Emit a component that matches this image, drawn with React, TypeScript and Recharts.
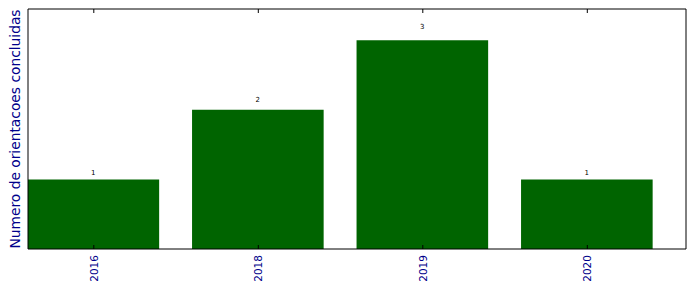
import { BarChart, Bar, XAxis, YAxis, LabelList } from "recharts";

const years = ["2016", "2018", "2019", "2020"];
const counts = [1, 2, 3, 1];
const yMax = 3.45;
const xDomain = [-0.4, 3.6];
const xTicks = [0, 1, 2, 3];

const data = years.map((year, i) => ({ pos: i, year, count: counts[i] }));

const FONT = "DejaVu Sans, sans-serif";
const LABEL_BLUE = "#00008B";
const BAR_GREEN = "#006400";

function BottomTick(props: any) {
  const { x, y, payload } = props;
  return (
    <g>
      <line x1={x} y1={y} x2={x} y2={y - 4} stroke="#000" strokeWidth={1} />
      <text
        x={x}
        y={y + 6}
        transform={`rotate(-90, ${x}, ${y + 6})`}
        textAnchor="end"
        dominantBaseline="central"
        fontFamily={FONT}
        fontSize={10.5}
        fill={LABEL_BLUE}
      >
        {years[payload.value]}
      </text>
    </g>
  );
}

function TopTick(props: any) {
  const { x, y } = props;
  return <line x1={x} y1={y} x2={x} y2={y + 4} stroke="#000" strokeWidth={1} />;
}

function ValueLabel(props: any) {
  const { x, y, width, height, value } = props;
  // text bottom sits at 1.05 * bar height
  return (
    <text
      x={x + width / 2}
      y={y - height * 0.05 - 1}
      textAnchor="middle"
      fontFamily={FONT}
      fontSize={7}
      fill="#000"
    >
      {value}
    </text>
  );
}

export default function App() {
  return (
    <div style={{ position: "absolute", left: 0, top: 0, width: 696, height: 292 }}>
      <BarChart
        width={696}
        height={292}
        data={data}
        margin={{ top: 0, right: 0, bottom: 0, left: 0 }}
        barSize={131.6}
      >
        <XAxis
          dataKey="pos"
          type="number"
          domain={xDomain}
          ticks={xTicks}
          allowDataOverflow
          height={43}
          tickSize={0}
          tickMargin={0}
          tickLine={false}
          axisLine={{ stroke: "#000", strokeWidth: 1 }}
          tick={<BottomTick />}
          interval={0}
        />
        <XAxis
          xAxisId="top"
          dataKey="pos"
          type="number"
          domain={xDomain}
          ticks={xTicks}
          allowDataOverflow
          orientation="top"
          height={9}
          tickSize={0}
          tickMargin={0}
          tickLine={false}
          axisLine={{ stroke: "#000", strokeWidth: 1 }}
          tick={<TopTick />}
          interval={0}
        />
        <YAxis
          domain={[0, yMax]}
          width={28}
          tick={false}
          tickLine={false}
          axisLine={{ stroke: "#000", strokeWidth: 1 }}
        />
        <YAxis
          yAxisId="right"
          orientation="right"
          domain={[0, yMax]}
          width={10}
          tick={false}
          tickLine={false}
          axisLine={{ stroke: "#000", strokeWidth: 1 }}
        />
        <Bar dataKey="count" fill={BAR_GREEN} isAnimationActive={false}>
          <LabelList dataKey="count" content={<ValueLabel />} />
        </Bar>
      </BarChart>
      <svg
        width={696}
        height={292}
        style={{ position: "absolute", left: 0, top: 0, pointerEvents: "none" }}
      >
        <text
          x={15}
          y={129}
          transform="rotate(-90, 15, 129)"
          textAnchor="middle"
          dominantBaseline="central"
          fontFamily={FONT}
          fontSize={13.8}
          fill={LABEL_BLUE}
        >
          Numero de orientacoes concluidas
        </text>
      </svg>
    </div>
  );
}
